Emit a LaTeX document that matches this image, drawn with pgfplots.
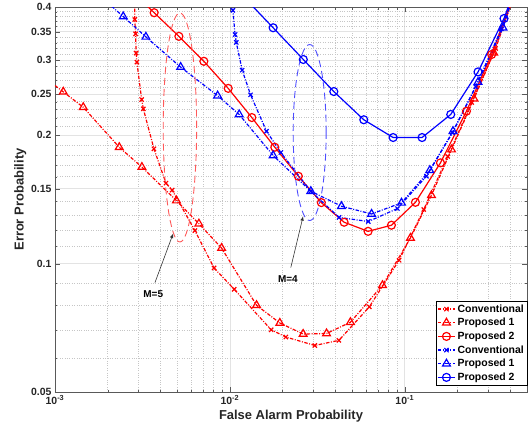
\documentclass[border=0pt]{standalone}
\usepackage{fontspec}
\setmainfont{Liberation Sans}
\usepackage{pgfplots}
\pgfplotsset{compat=1.18}
\definecolor{mred}{rgb}{1,0,0}
\definecolor{mblue}{rgb}{0,0,1}
\definecolor{axgray}{rgb}{0.35,0.35,0.35}
\tikzset{dashdot/.style={dash pattern=on 3.5pt off 1.5pt on 1pt off 1.5pt}}

\begin{document}
\begin{tikzpicture}
\begin{axis}[
    scale only axis,
    width=472bp, height=385bp,
    xmode=log, ymode=log,
    xmin=1e-3, xmax=0.5,
    ymin=0.05, ymax=0.4,
    xtick={0.001,0.01,0.1},
    xticklabels={10\textsuperscript{-3},10\textsuperscript{-2},10\textsuperscript{-1}},
    minor xtick={0.002,0.003,0.004,0.005,0.006,0.007,0.008,0.009,
                 0.02,0.03,0.04,0.05,0.06,0.07,0.08,0.09,0.2,0.3,0.4},
    ytick={0.05,0.1,0.15,0.2,0.25,0.3,0.35,0.4},
    yticklabels={0.05,0.1,0.15,0.2,0.25,0.3,0.35,0.4},
    minor ytick={0.06,0.07,0.08,0.09,0.11,0.12,0.13,0.14,0.16,0.17,0.18,0.19,
                 0.21,0.22,0.23,0.24,0.26,0.27,0.28,0.29,0.31,0.32,0.33,0.34,
                 0.36,0.37,0.38,0.39},
    grid=both,
    major grid style={gray!22, line width=0.7pt},
    minor grid style={gray!45, dotted, line width=0.5pt},
    axis line style={axgray},
    tick style={axgray},
    tick align=inside,
    major tick length=5pt,
    minor tick length=2.5pt,
    ticklabel style={font=\bfseries\fontsize{10.5}{12}\selectfont, text=black!85},
    label style={font=\bfseries\fontsize{13}{15}\selectfont, text=black!85},
    xlabel={False Alarm Probability},
    ylabel={Error Probability},
    xlabel style={yshift=1pt},
    ylabel style={yshift=-2pt},
    legend style={at={(1,0.018)}, anchor=south east,
        font=\bfseries\fontsize{10.5}{12}\selectfont,
        draw=black, fill=white, inner sep=1pt, row sep=0.6pt},
    legend cell align=left,
    every axis plot/.append style={line width=1.2pt},
]

% M=5, conventional
\addplot[mred, dashdot, mark=x, mark size=3pt, mark options={solid}] coordinates {
  (0.00285,0.43) (0.00286,0.374) (0.00289,0.346) (0.00291,0.312) (0.00294,0.297)
  (0.00313,0.2427) (0.00320,0.2308) (0.00368,0.186) (0.00431,0.1545) (0.00468,0.1488)
  (0.00631,0.1196) (0.00812,0.0977) (0.01059,0.0871) (0.01722,0.0700) (0.0209,0.0673)
  (0.0306,0.0643) (0.0420,0.0661) (0.0627,0.0792) (0.0928,0.1019) (0.1284,0.134)
  (0.176,0.1784) (0.2415,0.2388) (0.331,0.3198) (0.45,0.46)
};
\addlegendentry{Conventional}

% M=5, proposed 1
\addplot[mred, dashdot, mark=triangle, mark size=4.5pt, mark options={solid}] coordinates {
  (0.000857,0.275) (0.001115,0.2530) (0.001451,0.2328) (0.00233,0.1876) (0.00314,0.1685)
  (0.00495,0.1406) (0.00665,0.1241) (0.00897,0.1088) (0.01421,0.0799) (0.01931,0.0726)
  (0.02624,0.0684) (0.0357,0.0686) (0.0489,0.0729) (0.0746,0.0890) (0.1078,0.1149)
  (0.1421,0.1447) (0.185,0.1852) (0.2489,0.2436) (0.3226,0.3125) (0.44,0.45)
};
\addlegendentry{Proposed 1}

% M=5, proposed 2
\addplot[mred, solid, mark=o, mark size=4pt] coordinates {
  (0.002662,0.4404) (0.00369,0.388) (0.00511,0.3415) (0.0071,0.2984) (0.00978,0.2578)
  (0.01335,0.2202) (0.01807,0.1876) (0.02463,0.1604) (0.03334,0.1391) (0.045,0.1251)
  (0.0617,0.1191) (0.0839,0.1231) (0.1151,0.1393) (0.16,0.1724) (0.2253,0.2279)
  (0.314,0.3096) (0.44,0.45)
};
\addlegendentry{Proposed 2}

% M=4, conventional
\addplot[mblue, dashdot, mark=x, mark size=3pt, mark options={solid}] coordinates {
  (0.0102,0.43) (0.0104,0.393) (0.01071,0.3448) (0.01088,0.3304) (0.01176,0.2844)
  (0.01313,0.2490) (0.0162,0.2045) (0.01956,0.1823) (0.02903,0.1479) (0.04213,0.1284)
  (0.0619,0.1256) (0.0908,0.1347) (0.133,0.1604) (0.1874,0.2028) (0.2545,0.2602)
  (0.3569,0.3556) (0.45,0.46)
};
\addlegendentry{Conventional}

% M=4, proposed 1
\addplot[mblue, dashdot, mark=triangle, mark size=4.5pt, mark options={solid}] coordinates {
  (0.00182,0.424) (0.002456,0.380) (0.00331,0.3404) (0.00523,0.2892) (0.00851,0.2478)
  (0.0113,0.2239) (0.01768,0.1794) (0.02903,0.1479) (0.04347,0.1364) (0.0646,0.1308)
  (0.0958,0.1389) (0.139,0.1656) (0.1888,0.2045) (0.2624,0.2666) (0.3645,0.3577)
  (0.45,0.47)
};
\addlegendentry{Proposed 1}

% M=4, proposed 2
\addplot[mblue, solid, mark=o, mark size=4pt] coordinates {
  (0.01187,0.4244) (0.01768,0.3577) (0.0263,0.3013) (0.0393,0.2534) (0.0583,0.2176)
  (0.0858,0.1977) (0.1256,0.1977) (0.1832,0.2239) (0.2624,0.2818) (0.3694,0.3760)
  (0.45,0.47)
};
\addlegendentry{Proposed 2}

% groups and their labels
\draw[red!65, dash pattern=on 7pt off 4pt, line width=0.9pt]
  (axis cs:0.00518,0.2087) ellipse [x radius=16.7bp, y radius=114.5bp];
\draw[mblue!70, dash pattern=on 7pt off 4pt, line width=0.9pt]
  (axis cs:0.0286,0.2031) ellipse [x radius=16.5bp, y radius=88bp];
\draw[-latex, black!80, line width=0.6pt] (axis cs:0.00373,0.0903) -- (axis cs:0.00474,0.1177);
\draw[-latex, black!80, line width=0.6pt] (axis cs:0.0223,0.0979) -- (axis cs:0.02624,0.1293);
\node[font=\bfseries\fontsize{10}{12}\selectfont] at (axis cs:0.003645,0.0849) {M=5};
\node[font=\bfseries\fontsize{10}{12}\selectfont] at (axis cs:0.02145,0.0918) {M=4};
\end{axis}
\path (current axis.north east) ++(4bp,7bp);
\path (current axis.south west) ++(-55bp,-44bp);
\end{tikzpicture}
\end{document}
